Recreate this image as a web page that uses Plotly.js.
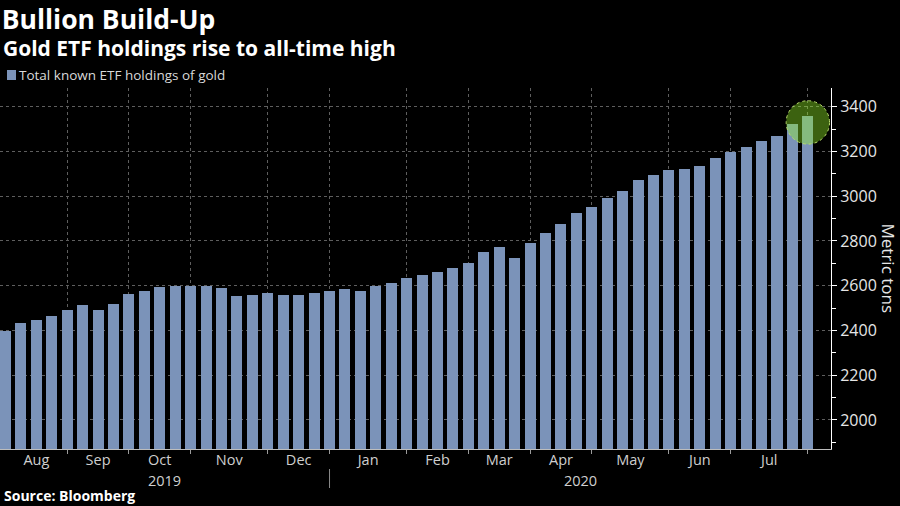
<!DOCTYPE html>
<html>
<head>
<meta charset="utf-8">
<script src="https://cdn.plot.ly/plotly-3.0.1.min.js"></script>
<style>
  html, body { margin: 0; padding: 0; background: #000; }
  #chart { width: 900px; height: 506px; }
</style>
</head>
<body>
<div id="chart"></div>
<script>
// ---- Data (weekly) ----
const weeks = [
  '2019-08-09','2019-08-16','2019-08-23','2019-08-30',
  '2019-09-06','2019-09-13','2019-09-20','2019-09-27',
  '2019-10-04','2019-10-11','2019-10-18','2019-10-25',
  '2019-11-01','2019-11-08','2019-11-15','2019-11-22','2019-11-29',
  '2019-12-06','2019-12-13','2019-12-20','2019-12-27',
  '2020-01-03','2020-01-10','2020-01-17','2020-01-24','2020-01-31',
  '2020-02-07','2020-02-14','2020-02-21','2020-02-28',
  '2020-03-06','2020-03-13','2020-03-20','2020-03-27',
  '2020-04-03','2020-04-10','2020-04-17','2020-04-24',
  '2020-05-01','2020-05-08','2020-05-15','2020-05-22','2020-05-29',
  '2020-06-05','2020-06-12','2020-06-19','2020-06-26',
  '2020-07-03','2020-07-10','2020-07-17','2020-07-24','2020-07-31',
  '2020-08-07'
];
const holdings = [
  2396, 2435, 2448, 2464,
  2493, 2513, 2493, 2520,
  2561, 2575, 2596, 2601,
  2598, 2601, 2588, 2556, 2560,
  2566, 2560, 2559, 2566,
  2576, 2586, 2575, 2600, 2612,
  2636, 2649, 2663, 2679,
  2703, 2753, 2772, 2726,
  2789, 2837, 2877, 2927,
  2954, 2990, 3022, 3071, 3096,
  3117, 3123, 3134, 3171,
  3200, 3220, 3248, 3269, 3322,
  3360
];
const monthLabels = ['Aug','Sep','Oct','Nov','Dec','Jan','Feb','Mar','Apr','May','Jun','Jul'];
const yearLabels = ['2019','2020'];
const yTicks = [2000, 2200, 2400, 2600, 2800, 3000, 3200, 3400];
const seriesName = 'Total known ETF holdings of gold';

// ---- Derived positions ----
const ms = s => Date.parse(s + 'T00:00:00Z');
const step = ms(weeks[1]) - ms(weeks[0]);
const xLeft = ms(weeks[0]) - 0.356 * step;
const xRight = ms(weeks[weeks.length - 1]) + 1.5 * step;

// first bar of each month
const monthStarts = [];
weeks.forEach((w, i) => {
  if (i === 0 || w.slice(0, 7) !== weeks[i - 1].slice(0, 7)) monthStarts.push(i);
});
const boundaryTicks = monthStarts.slice(1).map(i => ms(weeks[i]));
const labelPos = [];
for (let k = 0; k < monthLabels.length; k++) {
  labelPos.push((ms(weeks[monthStarts[k]]) + ms(weeks[monthStarts[k + 1]])) / 2);
}
// year boundary = first bar of new year
const yearStartIdx = weeks.findIndex(w => w.startsWith(yearLabels[1]));
const yearBoundary = ms(weeks[yearStartIdx]);
const yearPos = [(xLeft + yearBoundary) / 2, (yearBoundary + xRight) / 2];

const barColor = '#7b93b9';
const gridColor = '#5e5e5e';
const textColor = '#d9d9d9';
const FONT = 'Open Sans, Noto Sans, sans-serif';

const plotTop = 88, plotBottom = 449, plotH = plotBottom - plotTop;
const py = y => (plotBottom - y) / plotH;   // page px -> paper y

const trace = {
  type: 'bar',
  x: weeks,
  y: holdings,
  name: seriesName,
  marker: { color: barColor },
  width: 0.713 * step,
  showlegend: false,
  hovertemplate: '%{x|%b %d, %Y}: %{y}<extra></extra>'
};

const layout = {
  width: 900, height: 506,
  paper_bgcolor: '#000', plot_bgcolor: '#000',
  margin: { l: 0, r: 69, t: plotTop, b: 506 - plotBottom, pad: 0 },
  font: { family: FONT, color: textColor },
  showlegend: false,
  bargap: 0,
  title: {
    text: 'Bullion Build-Up',
    font: { family: FONT, size: 26.5, color: '#ffffff', weight: 700 },
    x: 0.002, xanchor: 'left', xref: 'paper',
    y: 1 - 19.5 / 506, yanchor: 'middle'
  },
  xaxis: {
    type: 'date',
    range: [xLeft, xRight],
    tickmode: 'array',
    tickvals: labelPos,
    ticktext: monthLabels,
    ticks: '',
    showgrid: false,
    tickfont: { family: FONT, size: 14.5, color: '#cfcfcf' },
    ticklabelstandoff: -2,
    showline: true, linecolor: '#bdbdbd', linewidth: 1,
    zeroline: false,
    minor: {
      tickmode: 'array',
      tickvals: boundaryTicks,
      ticks: 'outside', ticklen: 4, tickcolor: '#9a9a9a', tickwidth: 1,
      showgrid: true, gridcolor: gridColor, griddash: 'dot', gridwidth: 1
    },
    fixedrange: true
  },
  yaxis: {
    side: 'right',
    range: [1870, 3484],
    tickmode: 'array',
    tickvals: yTicks,
    ticks: 'outside', ticklen: 5, tickcolor: '#ffffff', tickwidth: 1,
    showline: true, linecolor: '#ffffff', linewidth: 1,
    showgrid: true, gridcolor: gridColor, griddash: 'dot', gridwidth: 1,
    zeroline: false,
    tickfont: { family: FONT, size: 16, color: '#e6e6e6' },
    minor: {
      dtick: 100, tick0: 1900,
      ticks: 'outside', ticklen: 4, tickcolor: '#ffffff', showgrid: false
    },
    fixedrange: true
  },
  shapes: [
    // legend swatch
    { type: 'rect', xref: 'paper', yref: 'paper',
      x0: 7 / 831, x1: 16 / 831, y0: py(80), y1: py(70),
      fillcolor: barColor, line: { width: 0 } },
    // year divider
    { type: 'line', xref: 'x', yref: 'paper',
      x0: yearBoundary, x1: yearBoundary, y0: py(469), y1: py(488),
      line: { color: '#8a8a8a', width: 1 } },
    // highlight circle on latest reading
    { type: 'circle', layer: 'above',
      xref: 'x', yref: 'y',
      xsizemode: 'pixel', ysizemode: 'pixel',
      xanchor: ms(weeks[weeks.length - 1]), yanchor: holdings[holdings.length - 1],
      x0: -21.7, x1: 21.7, y0: -28.4, y1: 15,
      fillcolor: 'rgba(150,245,40,0.40)',
      line: { color: '#b9dc6c', width: 1, dash: 'dot' } }
  ],
  annotations: [
    { text: 'Gold ETF holdings rise to all-time high',
      xref: 'paper', yref: 'paper', x: 1 / 831, y: py(47.5),
      xanchor: 'left', yanchor: 'middle', showarrow: false,
      font: { family: FONT, size: 21, color: '#ffffff', weight: 700 } },
    { text: seriesName,
      xref: 'paper', yref: 'paper', x: 17 / 831, y: py(75),
      xanchor: 'left', yanchor: 'middle', showarrow: false,
      font: { family: FONT, size: 13.5, color: textColor } },
    { text: 'Metric tons',
      xref: 'paper', yref: 'paper', x: 888.5 / 831, y: py(268),
      xanchor: 'center', yanchor: 'middle', showarrow: false, textangle: 90,
      font: { family: FONT, size: 17, color: '#e6e6e6' } },
    { text: yearLabels[0],
      xref: 'x', yref: 'paper', x: yearPos[0], y: py(480),
      xanchor: 'center', yanchor: 'middle', showarrow: false,
      font: { family: FONT, size: 14.5, color: '#cfcfcf' } },
    { text: yearLabels[1],
      xref: 'x', yref: 'paper', x: yearPos[1], y: py(480),
      xanchor: 'center', yanchor: 'middle', showarrow: false,
      font: { family: FONT, size: 14.5, color: '#cfcfcf' } },
    { text: 'Source: Bloomberg',
      xref: 'paper', yref: 'paper', x: 2 / 831, y: py(495.5),
      xanchor: 'left', yanchor: 'middle', showarrow: false,
      font: { family: FONT, size: 14, color: '#ffffff', weight: 700 } }
  ]
};

Plotly.newPlot('chart', [trace], layout, { displayModeBar: false, staticPlot: true });
</script>
</body>
</html>
